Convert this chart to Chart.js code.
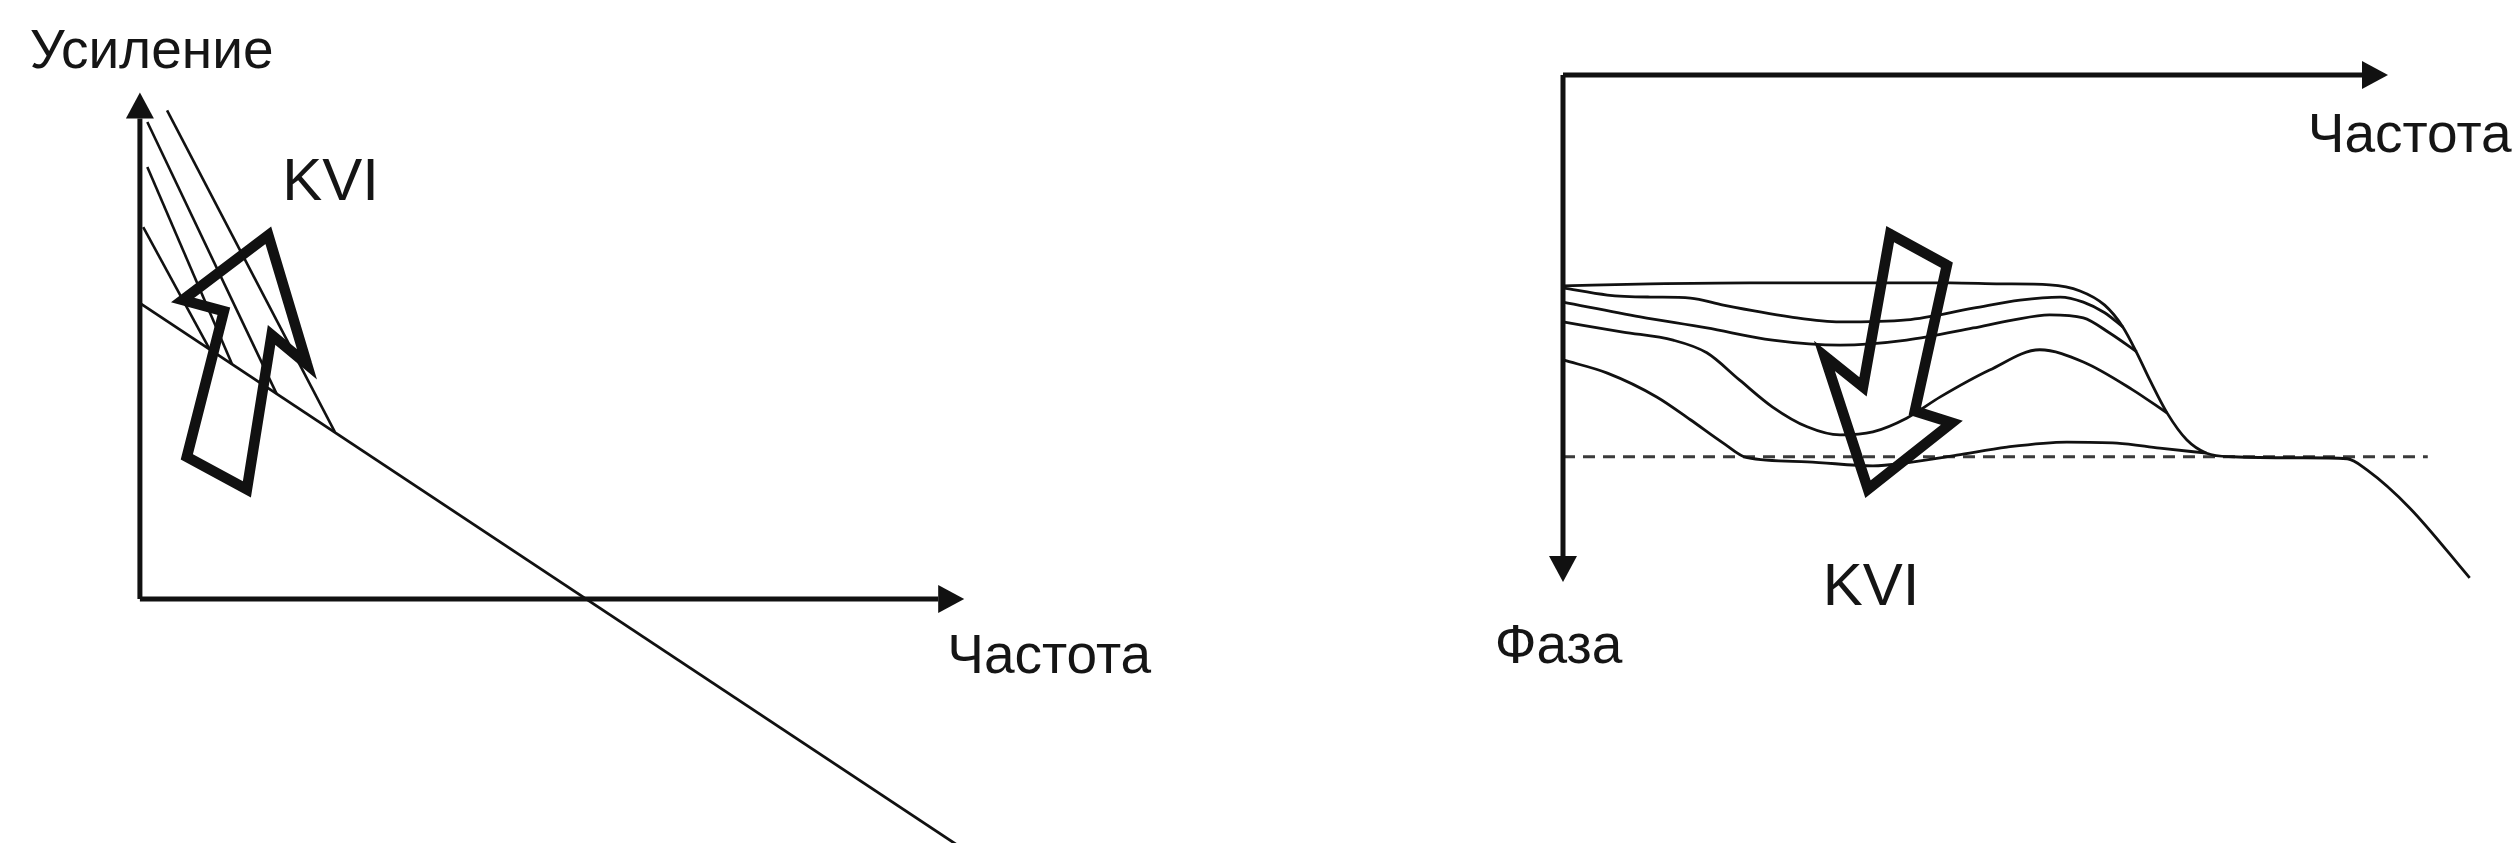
<!DOCTYPE html>
<html lang="ru">
<head>
<meta charset="utf-8">
<title>KVI: усиление и фаза</title>
<script src="https://cdn.jsdelivr.net/npm/chart.js@4.4.1/dist/chart.umd.min.js"></script>
<style>
  html, body { margin: 0; padding: 0; background: #fff; }
  .wrap { display: flex; width: 2520px; height: 843px; }
  canvas { display: block; }
</style>
</head>
<body>
<div class="wrap">
  <canvas id="gainChart" width="1260" height="843"></canvas>
  <canvas id="phaseChart" width="1260" height="843"></canvas>
</div>
<script>
// data: gain plot (frequency / gain, arbitrary units, axes run 0..100)
const gainAxisX = [[0, 0], [97, 0]];
const gainAxisY = [[0, 0], [0, 95]];
const gainBase = [[0, 58.5], [102, -51.5]];
const gainKviLines = [
  [[3.3, 96.6], [23.7, 33.0]],
  [[0.9, 94.3], [16.6, 40.6]],
  [[0.9, 85.4], [11.2, 46.4]],
  [[0.4, 73.5], [8.5, 49.3]]
];
const gainKviArrow = [[15.6, 71.9], [20.3, 46.4], [16.0, 52.2], [13.0, 21.7], [5.7, 28.1], [10.2, 56.9], [5.2, 59.1]];

// data: phase plot (frequency / phase, phase goes down)
const phaseAxisX = [[0, 0], [97.2, 0]];
const phaseAxisY = [[0, 0], [0, -94.9]];
const phaseRef = [[0, -75.3], [105.2, -75.3]];
const phaseCurveA = [[0, -41.6], [10.6, -41.2], [22.7, -41.0], [34.9, -41.0], [47.1, -41.0], [53.2, -41.2], [59.2, -41.4],
  [62.9, -42.6], [65.9, -45.4], [68.1, -49.7], [69.8, -54.8], [71.4, -60.2], [73.5, -66.7], [75.9, -72.0], [78.3, -74.6],
  [81.5, -75.3], [89.7, -75.5], [95.4, -75.7], [97.8, -77.9], [103.0, -85.4], [110.3, -99.2]];
const phaseCurveB = [[0, -42.0], [5.4, -43.4], [10.6, -43.8], [15.5, -44.0], [19.5, -45.4], [27.6, -47.7], [33.7, -48.7],
  [41.8, -48.3], [49.9, -46.0], [55.6, -44.4], [60.5, -43.8], [63.3, -44.8], [65.9, -46.9], [68.1, -49.7]];
const phaseCurveC = [[0, -44.8], [9.4, -47.7], [17.5, -49.9], [25.5, -52.3], [33.7, -53.3], [41.8, -52.3], [49.9, -49.9],
  [54.5, -48.4], [59.2, -47.3], [63.3, -47.9], [66.5, -50.9], [69.8, -54.6]];
const phaseCurveD = [[0, -48.7], [7.3, -50.7], [13.4, -52.3], [17.5, -54.8], [21.5, -60.2], [25.5, -65.5], [29.7, -69.4],
  [33.7, -71.0], [37.7, -70.4], [41.8, -67.7], [45.9, -63.5], [51.9, -58.2], [58.0, -54.2], [63.3, -56.6], [69.3, -62.1], [73.5, -66.7]];
const phaseCurveE = [[0, -56.2], [5.4, -58.8], [11.4, -63.5], [15.5, -68.0], [19.5, -72.6], [22.4, -75.5], [29.7, -76.3],
  [37.7, -77.1], [41.8, -76.5], [47.9, -75.0], [54.0, -73.4], [61.3, -72.4], [67.4, -72.6], [72.6, -73.6], [78.3, -74.6]];
const phaseKviArrow = [[39.8, -31.4], [46.7, -37.5], [42.8, -66.3], [47.3, -68.6], [37.1, -81.7], [31.8, -55.4], [36.5, -61.5]];

const INK = '#111111';
const FONT = "'Liberation Sans', Arial, sans-serif";

const toXY = (arr) => arr.map(p => ({ x: p[0], y: p[1] }));
// closed outline: repeat first two vertices so the corner joins properly
const closed = (arr) => toXY(arr.concat([arr[0], arr[1]]));

function line(data, width, extra) {
  return Object.assign({
    data: toXY(data),
    showLine: true,
    borderColor: INK,
    borderWidth: width,
    pointRadius: 0,
    fill: false,
    tension: 0,
    order: 2
  }, extra || {});
}

function outline(data) {
  return {
    data: closed(data),
    showLine: true,
    borderColor: INK,
    borderWidth: 10.5,
    borderJoinStyle: 'miter',
    pointRadius: 0,
    fill: false,
    tension: 0,
    order: 0
  };
}

// arrowheads at the end of axis datasets
const arrowHeads = {
  id: 'arrowHeads',
  afterDatasetsDraw(chart) {
    const ctx = chart.ctx;
    chart.data.datasets.forEach((ds, i) => {
      if (!ds.arrow) return;
      const pts = chart.getDatasetMeta(i).data;
      const a = pts[pts.length - 2], b = pts[pts.length - 1];
      const ang = Math.atan2(b.y - a.y, b.x - a.x);
      ctx.save();
      ctx.translate(b.x, b.y);
      ctx.rotate(ang);
      ctx.beginPath();
      ctx.moveTo(26, 0);
      ctx.lineTo(0, -14);
      ctx.lineTo(0, 14);
      ctx.closePath();
      ctx.fillStyle = INK;
      ctx.fill();
      ctx.restore();
    });
  }
};

// text labels placed in data units
const textLabels = {
  id: 'textLabels',
  afterDraw(chart, args, opts) {
    const { ctx, scales } = chart;
    ctx.save();
    ctx.fillStyle = '#151515';
    ctx.textBaseline = 'alphabetic';
    (opts.items || []).forEach(t => {
      ctx.font = t.size + 'px ' + FONT;
      ctx.fillText(t.text, scales.x.getPixelForValue(t.x), scales.y.getPixelForValue(t.y));
    });
    ctx.restore();
  }
};

function baseOptions(xr, yr, labels) {
  return {
    responsive: false,
    animation: false,
    devicePixelRatio: 1,
    layout: { padding: 0 },
    scales: {
      x: { type: 'linear', display: false, min: xr[0], max: xr[1] },
      y: { type: 'linear', display: false, min: yr[0], max: yr[1] }
    },
    plugins: {
      legend: { display: false },
      tooltip: { enabled: false },
      textLabels: { items: labels }
    }
  };
}

// gain chart
new Chart(document.getElementById('gainChart'), {
  type: 'scatter',
  data: {
    datasets: [
      outline(gainKviArrow),
      line(gainAxisX, 5, { arrow: true, order: 1 }),
      line(gainAxisY, 5, { arrow: true, order: 1 }),
      line(gainBase, 2.8)
    ].concat(gainKviLines.map(l => line(l, 2.6)))
  },
  options: baseOptions([-17.0, 136.1], [-48.2, 118.4], [
    { text: 'Усиление', x: -13.4, y: 104.9, size: 55 },
    { text: 'KVI', x: 17.3, y: 78.9, size: 60 },
    { text: 'Частота', x: 98.1, y: -14.6, size: 55 }
  ]),
  plugins: [arrowHeads, textLabels]
});

// phase chart
new Chart(document.getElementById('phaseChart'), {
  type: 'scatter',
  data: {
    datasets: [
      outline(phaseKviArrow),
      line(phaseAxisX, 5, { arrow: true, order: 1 }),
      line(phaseAxisY, 5, { arrow: true, order: 1 }),
      line(phaseRef, 3.2, { borderColor: '#3a3a3a', borderDash: [12, 8], order: 3 })
    ].concat([phaseCurveA, phaseCurveB, phaseCurveC, phaseCurveD, phaseCurveE].map(c =>
      line(c, 2.8, { cubicInterpolationMode: 'monotone' })))
  },
  options: baseOptions([-36.86, 116.42], [-151.5, 14.8], [
    { text: 'Частота', x: 90.6, y: -15.2, size: 55 },
    { text: 'Фаза', x: -8.3, y: -116.0, size: 55 },
    { text: 'KVI', x: 31.6, y: -104.5, size: 60 }
  ]),
  plugins: [arrowHeads, textLabels]
});
</script>
</body>
</html>
